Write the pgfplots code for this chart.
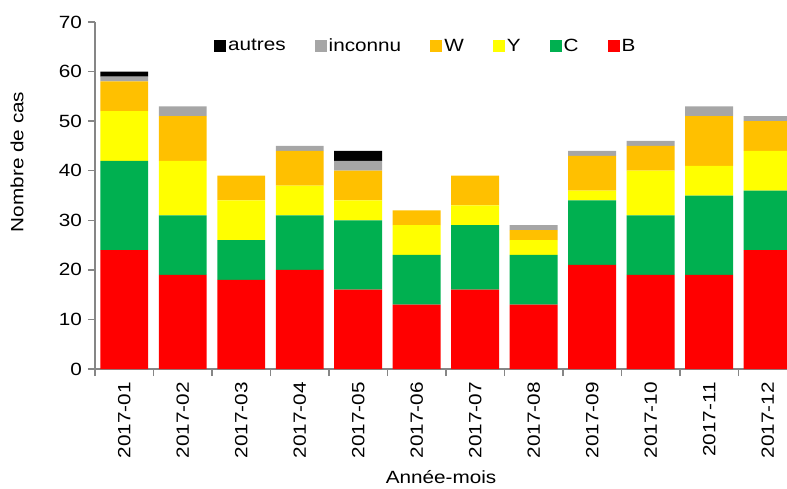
\documentclass[border=0pt]{standalone}
\usepackage{fontspec}
\setmainfont{Liberation Sans}[FakeStretch=1.17]
\usepackage{pgfplots}
\pgfplotsset{compat=1.18}
\definecolor{cB}{HTML}{FF0000}
\definecolor{cC}{HTML}{00B050}
\definecolor{cY}{HTML}{FFFF00}
\definecolor{cW}{HTML}{FFC000}
\definecolor{cI}{HTML}{A6A6A6}
\definecolor{axisgray}{HTML}{868686}
\begin{document}
\fontsize{17.7pt}{21pt}\selectfont
\begin{tikzpicture}
\path[use as bounding box] (-95pt,-119pt) rectangle (692pt,369pt);
\begin{axis}[
  at={(0pt,0pt)}, anchor=south west,
  scale only axis, width=692pt, height=347pt,
  xmin=-0.5, xmax=11.33, ymin=0, ymax=70,
  ybar stacked, bar width=0.82,
  axis x line*=bottom, axis y line*=left,
  axis line style={axisgray, line width=1.3pt},
  xtick={0,...,11},
  xticklabels={2017-01,2017-02,2017-03,2017-04,2017-05,2017-06,2017-07,2017-08,2017-09,2017-10,2017-11,2017-12},
  minor xtick={-0.5,0.5,...,11.5},
  major x tick style={draw=none},
  ytick={0,10,...,70},
  tick align=outside,
  major tick length=7pt, minor tick length=7pt,
  every tick/.style={axisgray, line width=1.3pt},
  /pgf/number format/assume math mode=true,
  xticklabel style={rotate=90, anchor=east, font=\fontsize{17.7pt}{21pt}\selectfont},
  yticklabel style={font=\fontsize{17.7pt}{21pt}\selectfont},
  xlabel={Année-mois}, ylabel={Nombre de cas},
  label style={font=\fontsize{17.7pt}{21pt}\selectfont},
  every axis y label/.style={at={(axis description cs:-0.1127,0.597)}, rotate=90, anchor=center},
  legend style={draw=none, fill=none, at={(0.478,0.93)}, anchor=center,
    legend columns=-1, font=\fontsize{17.7pt}{21pt}\selectfont,
    /tikz/every even column/.append style={column sep=27pt}},
  legend image code/.code={\fill[#1] (0pt,-6pt) rectangle (12pt,6pt);},
  reverse legend,
  every axis plot/.append style={draw=none},
]
\addplot[fill=cB] coordinates {(0,24) (1,19) (2,18) (3,20) (4,16) (5,13) (6,16) (7,13) (8,21) (9,19) (10,19) (11,24)};
\addplot[fill=cC] coordinates {(0,18) (1,12) (2,8) (3,11) (4,14) (5,10) (6,13) (7,10) (8,13) (9,12) (10,16) (11,12)};
\addplot[fill=cY] coordinates {(0,10) (1,11) (2,8) (3,6) (4,4) (5,6) (6,4) (7,3) (8,2) (9,9) (10,6) (11,8)};
\addplot[fill=cW] coordinates {(0,6) (1,9) (2,5) (3,7) (4,6) (5,3) (6,6) (7,2) (8,7) (9,5) (10,10) (11,6)};
\addplot[fill=cI] coordinates {(0,1) (1,2) (2,0) (3,1) (4,2) (5,0) (6,0) (7,1) (8,1) (9,1) (10,2) (11,1)};
\addplot[fill=black] coordinates {(0,1) (1,0) (2,0) (3,0) (4,2) (5,0) (6,0) (7,0) (8,0) (9,0) (10,0) (11,0)};
\legend{B,C,Y,W,inconnu,autres}
\end{axis}
\end{tikzpicture}
\end{document}
